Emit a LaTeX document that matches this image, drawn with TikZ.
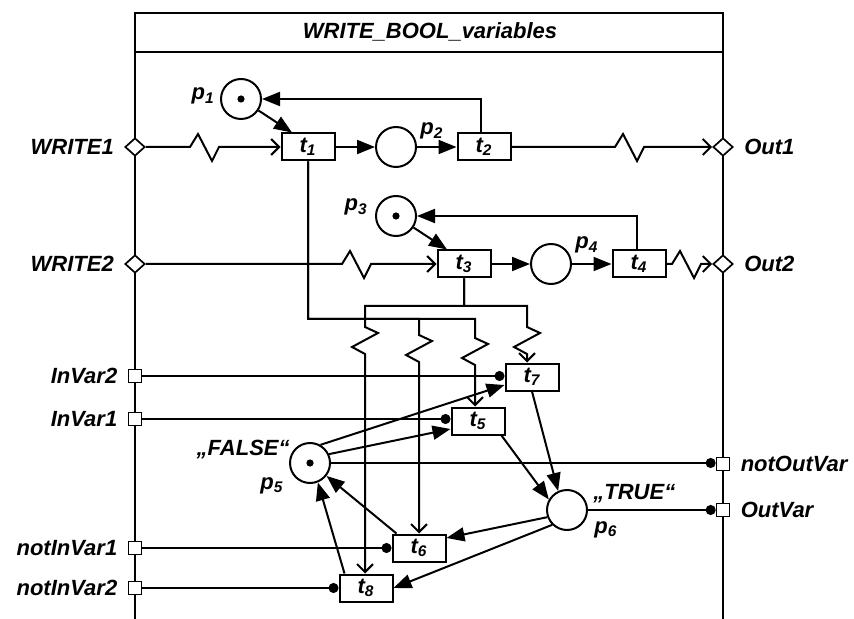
\documentclass[tikz,border=0pt]{standalone}
\usepackage{fontspec}
\setmainfont{Liberation Sans}
\usetikzlibrary{arrows.meta,shapes.geometric,positioning}

\newcommand{\tsub}[1]{t\textsubscript{#1}}
\newcommand{\psub}[1]{p\textsubscript{#1}}

\tikzset{
  net/.style={line width=1pt},
  pnflow/.style={net, -{Triangle[length=9pt,width=7pt]}},
  pnsig/.style={net, -{Straight Barb[length=4pt,width=8pt]}},
  pnread/.style={net, -{Circle[length=5pt]}},
  pnplace/.style={circle, draw, line width=1pt, minimum size=20pt, inner sep=0pt, fill=white},
  pntrans/.style={rectangle, draw, line width=1pt, minimum width=26.5pt, minimum height=13.5pt, inner sep=0pt, fill=white, font=\fontsize{11}{13}\selectfont\bfseries\itshape},
  lbl/.style={font=\fontsize{11}{13}\selectfont\bfseries\itshape, inner sep=0pt},
  dport/.style={diamond, draw, fill=white, line width=0.85pt, minimum width=10pt, minimum height=9pt, inner sep=0pt},
  sport/.style={rectangle, draw, fill=white, line width=0.85pt, minimum size=6.5pt, inner sep=0pt},
  zigh/.style={insert path={-- ++(8,-13) -- ++(14,27) -- ++(7,-14)}},
  zigv/.style={insert path={-- ++(13,6) -- ++(-26,14) -- ++(13,7)}}
}

\begin{document}
\begin{tikzpicture}[x=0.5pt, y=-0.5pt]
	\useasboundingbox (0,0) rectangle (854,619);
	% block frame
	\draw[line width=0.85pt] (135,619) -- (135,13) -- (723,13) -- (723,619);
	\draw[line width=0.85pt] (135,52) -- (723,52);
	\node[lbl, anchor=base] (title) at (430,39) {WRITE\_BOOL\_variables};
	% ports
	\node[dport] (w1) at (135,147) {};
	\node[dport] (w2) at (135,264) {};
	\node[dport] (o1) at (723,147) {};
	\node[dport] (o2) at (723,264) {};
	\node[sport] (iv2) at (135,376) {};
	\node[sport] (iv1) at (135,419) {};
	\node[sport] (niv1) at (135,548) {};
	\node[sport] (niv2) at (135,588) {};
	\node[sport] (nov) at (723,464) {};
	\node[sport] (ov) at (723,510) {};
	\node[lbl, left=5pt of w1] (lw1) {WRITE1};
	\node[lbl, left=5pt of w2] (lw2) {WRITE2};
	\node[lbl, right=5pt of o1] (lo1) {Out1};
	\node[lbl, right=5pt of o2] (lo2) {Out2};
	\node[lbl, left=5pt of iv2] (liv2) {InVar2};
	\node[lbl, left=5pt of iv1] (liv1) {InVar1};
	\node[lbl, left=5pt of niv1] (lniv1) {notInVar1};
	\node[lbl, left=5pt of niv2] (lniv2) {notInVar2};
	\node[lbl, right=5pt of nov] (lnov) {notOutVar};
	\node[lbl, right=5pt of ov] (lov) {OutVar};
	% places
	\node[pnplace] (p1) at (241,99) {};
	\node[pnplace] (p2) at (396,147) {};
	\node[pnplace] (p3) at (396,216) {};
	\node[pnplace] (p4) at (551,264) {};
	\node[pnplace] (p5) at (310,463) {};
	\node[pnplace] (p6) at (567,510) {};
	\fill (p1) circle (1.8pt);
	\fill (p3) circle (1.8pt);
	\fill (p5) circle (1.8pt);
	\node[lbl, anchor=base east] (lp1) at (215,100) {\psub{1}};
	\node[lbl, anchor=base west] (lp2) at (420,135) {\psub{2}};
	\node[lbl, anchor=base east] (lp3) at (368,211) {\psub{3}};
	\node[lbl, anchor=base west] (lp4) at (575,249) {\psub{4}};
	\node[lbl, anchor=base west] (lp5) at (260,489) {\psub{5}};
	\node[lbl, anchor=base west] (lp6) at (594,533) {\psub{6}};
	\node[lbl, anchor=base east] (lfalse) at (290,455) {„FALSE“};
	\node[lbl, anchor=base west] (ltrue) at (593,499) {„TRUE“};
	% transitions
	\node[pntrans] (t1) at (308,147) {\tsub{1}};
	\node[pntrans] (t2) at (484,147) {\tsub{2}};
	\node[pntrans] (t3) at (464,264) {\tsub{3}};
	\node[pntrans] (t4) at (639,264) {\tsub{4}};
	\node[pntrans] (t5) at (478,421) {\tsub{5}};
	\node[pntrans] (t6) at (419,548) {\tsub{6}};
	\node[pntrans] (t7) at (532,377) {\tsub{7}};
	\node[pntrans] (t8) at (366,588) {\tsub{8}};
	% upper nets
	\draw[pnsig] (w1) -- (190,147) [zigh] -- (t1);
	\draw[pnflow] (t1) -- (p2);
	\draw[pnflow] (p2) -- (t2);
	\draw[pnsig] (t2) -- (615,147) [zigh] -- (o1);
	\draw[pnflow] (p1) -- ([xshift=-8pt]t1.north);
	\draw[pnflow] ([xshift=-1.5pt]t2.north) |- (p1);
	\draw[pnsig] (w2) -- (342,264) [zigh] -- (t3);
	\draw[pnflow] (t3) -- (p4);
	\draw[pnflow] (p4) -- (t4);
	\draw[pnsig] (t4) -- (672,264) [zigh] -- (o2);
	\draw[pnflow] (p3) -- ([xshift=-8.5pt]t3.north);
	\draw[pnflow] ([xshift=-1pt]t4.north) |- (p3);
	% write signals
	\draw[pnsig] (t1.south) |- (475,319) -- ++(0,19) [zigv] -- ([xshift=-1.5pt]t5.north);
	\draw[pnsig] (t1.south) |- (419,319) -- ++(0,16) [zigv] -- (t6.north);
	\draw[pnsig] (t3.south) |- (527,306) -- ++(0,21) [zigv] -- ([xshift=-2.5pt]t7.north);
	\draw[pnsig] (t3.south) |- (365,306) -- ++(0,21) [zigv] -- ([xshift=-0.5pt]t8.north);
	% read arcs
	\draw[pnread] (iv2) -- (iv2 -| t7.west);
	\draw[pnread] (iv1) -- (iv1 -| t5.west);
	\draw[pnread] (niv1) -- (niv1 -| t6.west);
	\draw[pnread] (niv2) -- (niv2 -| t8.west);
	\draw[pnread] (p5) -- (p5 -| nov.west);
	\draw[pnread] (p6) -- (p6 -| ov.west);
	% value nets
	\draw[pnflow] (p5.60) -- ([yshift=-4pt]t7.west);
	\draw[pnflow] (p5.25) -- ([yshift=-4pt]t5.west);
	\draw[pnflow] ([xshift=-2pt]t5.south east) -- (p6.150);
	\draw[pnflow] (t7.south) -- (p6.115);
	\draw[pnflow] (p6.200) -- ([yshift=5pt]t6.east);
	\draw[pnflow] (p6.225) -- (t8.east);
	\draw[pnflow] ([xshift=2.5pt]t6.north west) -- (p5.-38);
	\draw[pnflow] ([xshift=3pt]t8.north west) -- (p5.-68);
\end{tikzpicture}
\end{document}
